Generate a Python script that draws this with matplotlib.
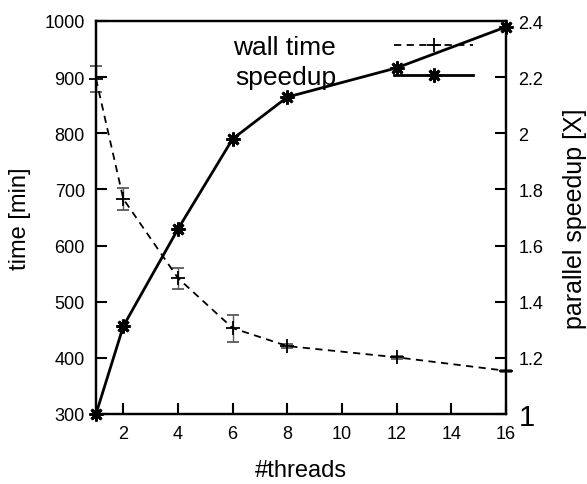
import matplotlib
matplotlib.use("Agg")
import matplotlib.pyplot as plt
from matplotlib.lines import Line2D
import numpy as np

plt.rcParams['font.family'] = ['Liberation Sans', 'DejaVu Sans']

threads = [1, 2, 4, 6, 8, 12, 16]
wall_time = [897, 683, 542, 453, 421, 401, 377]
time_low = [873, 663, 523, 428, 417, 398, 375]
time_high = [920, 702, 560, 476, 425, 404, 379]
speedup = [1.0, 1.313, 1.659, 1.98, 2.129, 2.233, 2.379]

x_ticks = [2, 4, 6, 8, 10, 12, 14, 16]
left_ticks = [300, 400, 500, 600, 700, 800, 900, 1000]
right_ticks = [1.0, 1.2, 1.4, 1.6, 1.8, 2.0, 2.2, 2.4]
right_labels = ['1', '1.2', '1.4', '1.6', '1.8', '2', '2.2', '2.4']

fig = plt.figure(figsize=(5.87, 4.85), dpi=100)
ax = fig.add_axes([96/587, 70/485, 410/587, 393/485])
ax2 = ax.twinx()

dash = (0, (4, 3))
yerr = [np.array(wall_time) - np.array(time_low), np.array(time_high) - np.array(wall_time)]
eb = ax.errorbar(threads, wall_time, yerr=yerr, fmt='+', color='black', ms=10, mew=1.3,
                 ls=dash, lw=1.3, ecolor='0.35', elinewidth=1.0, capsize=4, capthick=1.0,
                 clip_on=False, zorder=3)
ln, = ax2.plot(threads, speedup, color='black', lw=2, marker=(8, 2, 0), ms=10, mew=2,
               clip_on=False, zorder=4)

ax.set_xlim(1, 16)
ax.set_ylim(300, 1000)
ax2.set_ylim(1, 2.4)

ax.set_xticks(x_ticks)
ax.set_yticks(left_ticks)
ax2.set_yticks(right_ticks)
ax2.set_yticklabels(right_labels)

for a in (ax, ax2):
    for s in a.spines.values():
        s.set_linewidth(1.6)

ax.tick_params(axis='x', direction='in', length=8, width=1.5, pad=8, labelsize=13, top=False)
ax.tick_params(axis='y', direction='in', length=8, width=1.5, pad=8, labelsize=13, right=False)
ax2.tick_params(axis='y', direction='in', length=8, width=1.5, pad=9, labelsize=13)
for lbl in ax2.get_yticklabels():
    if lbl.get_text() == '1':
        lbl.set_fontsize(21)

ax.set_xlabel('#threads', fontsize=17, labelpad=12)
ax.set_ylabel('time [min]', fontsize=17, labelpad=10)
ax2.set_ylabel('parallel speedup [X]', fontsize=18, labelpad=14)

wall_handle = Line2D([], [], color='black', ls=dash, lw=1.3, marker='+', ms=10, mew=1.3)
leg = ax2.legend([wall_handle, ln], ['wall time', 'speedup'], loc='upper right',
                 bbox_to_anchor=(0.92, 0.965), frameon=False, markerfirst=False,
                 fontsize=19, handlelength=3.0, handletextpad=2.2, labelspacing=0.25,
                 borderpad=0, borderaxespad=0, numpoints=1)

fig.savefig('out.png', dpi=100)
